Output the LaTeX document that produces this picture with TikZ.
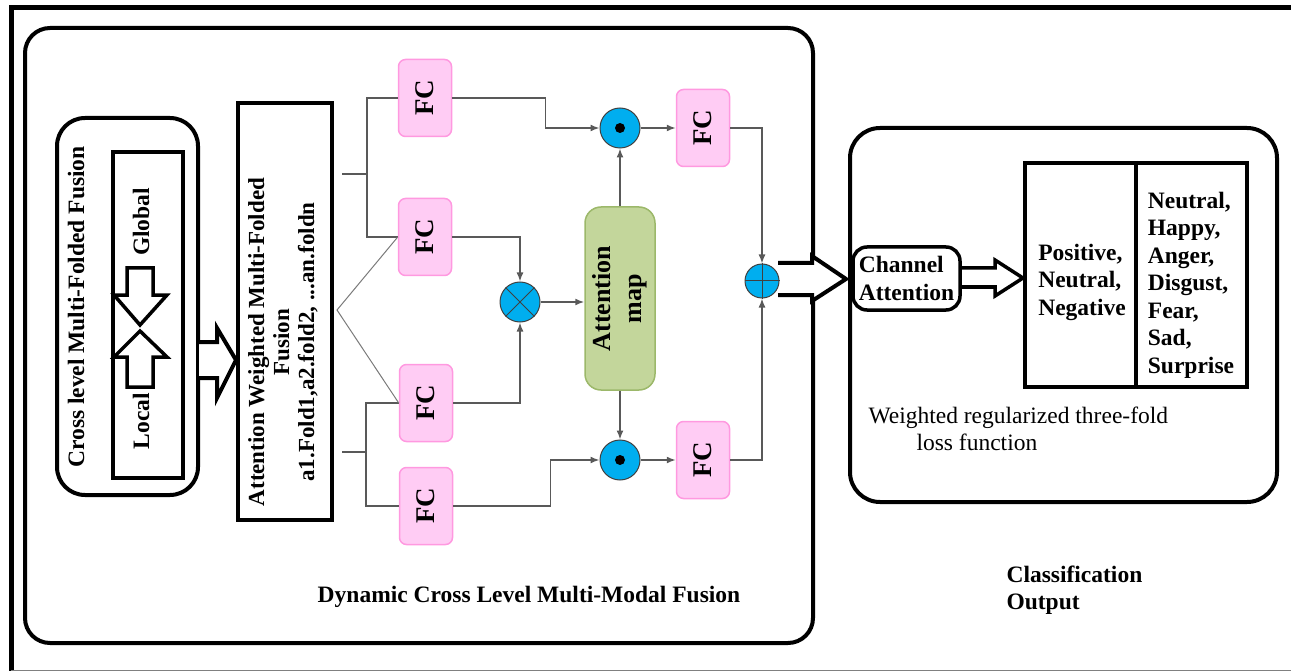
\documentclass[tikz,border=0pt]{standalone}
\usepackage{fontspec}
\setmainfont{Liberation Serif}
\usepackage{graphicx}
\usetikzlibrary{arrows.meta}
\definecolor{fcfill}{HTML}{FFCCF4}
\definecolor{fcline}{HTML}{FF99E0}
\definecolor{opfill}{HTML}{00AEEF}
\definecolor{mapfill}{HTML}{C3D69B}
\definecolor{mapline}{HTML}{9CB86A}
\definecolor{wire}{HTML}{595959}
\newcommand{\bigfont}{\fontsize{23.5}{27.5}\selectfont}
\begin{document}
\begin{tikzpicture}[x=1pt, y=-1pt, font=\bigfont,
    fc/.style={draw=fcline, fill=fcfill, rounded corners=7pt, line width=1.5pt,
      minimum width=53pt, minimum height=77pt, inner sep=0pt, font=\fontsize{27}{30}\selectfont\bfseries},
    opnode/.style={circle, draw=black!75, fill=opfill, line width=1pt,
      minimum size=40pt, inner sep=0pt},
    wireline/.style={draw=wire, line width=1.5pt},
    wirearrow/.style={wireline, -{Latex[length=9pt,width=7pt]}},
    thickbox/.style={draw, line width=4pt, inner sep=0pt},
    hollow/.style={draw, line width=4pt, fill=white, line join=miter}
  ]
  \useasboundingbox (0,0) rectangle (1291,671);

  % outer frame
  \draw[line width=5pt] (11,672) -- (11,8) -- (1300,8);
  \draw[gray, line width=1pt] (11,670) -- (1291,670);

  % cross level part
  \draw[line width=4pt, rounded corners=28pt] (57,118) rectangle (198,495);
  \draw[line width=4pt] (113,152) rectangle (183,478);
  \node[rotate=90, font=\bigfont\bfseries] (crosslbl) at (76,307) {Cross level Multi-Folded Fusion};
  \node[rotate=90, font=\bigfont\bfseries] (glob) at (141,222) {Global};
  \node[rotate=90, font=\bigfont\bfseries] (loc) at (141,421) {Local};
  \draw[hollow, line width=3.5pt] (127,268) -- (153,268) -- (153,295) -- (167,295) -- (140,325)
    -- (114,295) -- (127,295) -- cycle;
  \draw[hollow, line width=3.5pt] (127,387) -- (153,387) -- (153,357) -- (167,357) -- (140,331)
    -- (114,357) -- (127,357) -- cycle;
  \draw[hollow] (199,342) -- (217,342) -- (217,328) -- (236,360) -- (217,398) -- (217,378) -- (199,378);

  % attention weighted fusion
  \node[thickbox, minimum width=94pt, minimum height=417pt] (awf) at (285,311.5) {};
  \node[rotate=90, align=center, font=\fontsize{23}{25}\selectfont\bfseries] (awftxt) at (283,342)
    {Attention Weighted Multi-Folded\\Fusion\\a1.Fold1,a2.fold2, ...an.foldn};

  % dynamic cross level box
  \draw[line width=4pt, rounded corners=25pt] (25,28) rectangle (813,643);
  \node[font=\bigfont\bfseries] (dyncap) at (529,597) {Dynamic Cross Level Multi-Modal Fusion};

  % fc layers
  \node[fc] (fc1) at (425,98) {\rotatebox{90}{FC}};
  \node[fc] (fc2) at (425,237) {\rotatebox{90}{FC}};
  \node[fc] (fc3) at (426,403) {\rotatebox{90}{FC}};
  \node[fc] (fc4) at (426,506) {\rotatebox{90}{FC}};
  \node[fc] (fc5) at (703,128) {\rotatebox{90}{FC}};
  \node[fc] (fc6) at (703,460) {\rotatebox{90}{FC}};

  % attention map and operators
  \node[draw=mapline, fill=mapfill, rounded corners=16pt, line width=1.5pt, minimum width=70pt,
    minimum height=183pt, font=\fontsize{26}{31}\selectfont\bfseries] (amap) at (620,298.5)
    {\rotatebox{90}{\begin{tabular}{@{}c@{}}Attention\\map\end{tabular}}};
  \node[opnode] (od1) at (620,128) {};
  \node[opnode] (od2) at (620,460) {};
  \node[opnode] (ot) at (520,302) {};
  \fill (od1) circle (5pt);
  \fill (od2) circle (5pt);
  \draw[black!75, line width=1pt] (ot.45) -- (ot.225) (ot.135) -- (ot.-45);

  % branches
  \coordinate (stubA) at (342,174);
  \coordinate (stubB) at (342,452);
  \coordinate (fork) at (337,310);
  \draw[wireline] (fc1.west) -| ([xshift=-31pt]fc2.west) -- (fc2.west);
  \draw[wireline] (stubA) -- ++(25pt,0);
  \draw[wireline] (fc3.west) -| ([xshift=-33pt]fc4.west) -- (fc4.west);
  \draw[wireline] (stubB) -- ++(25pt,0);
  \draw[draw=wire!80, line width=1pt] (fc2.west) -- (fork) -- (fc3.west);

  % connectors
  \draw[wirearrow] (fc1.east) -- ++(93,0) |- (od1.west);
  \draw[wirearrow] (od1) -- (fc5);
  \draw[wirearrow] (amap) -- (od1);
  \draw[wirearrow] (fc2.east) -| (ot.north);
  \draw[wirearrow] (fc3.east) -| (ot.south);
  \draw[wirearrow] (ot.east) -- (ot.east -| amap.west);
  \draw[wirearrow] (amap) -- (od2);
  \draw[wirearrow] (fc4.east) -- ++(97,0) |- (od2.west);
  \draw[wirearrow] (od2) -- (fc6);

  % fusion into the classifier
  \draw[hollow] (778,263) -- (812,263) -- (812,256) -- (846,279) -- (812,301) -- (812,295) -- (778,295);
  \node[opnode, minimum size=34pt] (op) at (762,281) {};
  \draw[black!75, line width=1pt] (op.north) -- (op.south) (op.west) -- (op.east);
  \draw[wirearrow] (fc5.east) -| (op.north);
  \draw[wirearrow] (fc6.east) -| (op.south);

  % classification part
  \draw[line width=4pt, rounded corners=30pt] (850,128) rectangle (1277,502);
  \node[draw, line width=3.5pt, rounded corners=14pt, minimum width=107pt, minimum height=63pt,
    align=left, inner sep=2pt, font=\bigfont\bfseries] (chan) at (906.5,278.5) {Channel\\Attention};
  \draw[hollow, line width=3.5pt] (962,268) -- (995,268) -- (995,260) -- (1023,278) -- (995,296)
    -- (995,287) -- (962,287);
  \node[thickbox, minimum width=222pt, minimum height=224pt] (tbl) at (1136,275) {};
  \draw[line width=4pt] (tbl.north) -- (tbl.south);
  \node[align=left, font=\bigfont\bfseries] (sent) at (1082,282) {Positive,\\Neutral,\\Negative};
  \node[align=left, font=\bigfont\bfseries] (emo) at (1191,285)
    {Neutral,\\Happy,\\Anger,\\Disgust,\\Fear,\\Sad,\\Surprise};
  \node[align=left, anchor=west] (losscap) at (865,429)
    {Weighted regularized three-fold\\\hspace*{48pt}loss function};
  \node[align=left, anchor=west, font=\bigfont\bfseries] (clsout) at (1003,590) {Classification\\Output};
\end{tikzpicture}
\end{document}
